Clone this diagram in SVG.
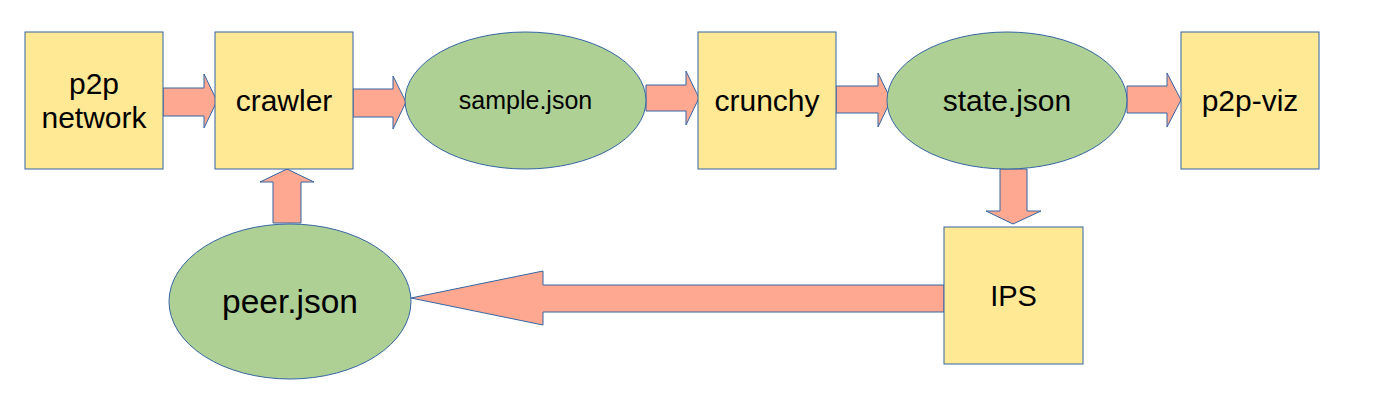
<svg xmlns="http://www.w3.org/2000/svg" width="1393" height="406" viewBox="0 0 1393 406">
<style>
.box{fill:#ffe994;stroke:#3465a4;stroke-width:1}
.ell{fill:#afd095;stroke:#3465a4;stroke-width:1}
.arr{fill:#ffa891;stroke:#3465a4;stroke-width:1;stroke-linejoin:miter}
text{font-family:"Liberation Sans",Arial,sans-serif;fill:#000;text-anchor:middle}
.t30{font-size:30px}
</style>
<rect width="1393" height="406" fill="#fff"/>
<g id="connectors">
<polygon class="arr" points="163,88 204,88 204,74 217,101 204,128 204,116 163,116"/>
<polygon class="arr" points="353,89 393,89 393,76 406,102 393,129 393,117 353,117"/>
<polygon class="arr" points="646,85 686,85 686,71 699,98 686,125 686,111 646,111"/>
<polygon class="arr" points="836,86 878,86 878,73 891,100 878,127 878,113 836,113"/>
<polygon class="arr" points="1127,86 1167,86 1167,73 1181,100 1167,127 1167,113 1127,113"/>
<polygon class="arr" points="1000,169 1027,169 1027,211 1041,211 1013,224 986,211 1000,211"/>
<polygon class="arr" points="944,285 543,285 543,271 411,298 543,325 543,312 944,312"/>
<polygon class="arr" points="273,223 273,182 260,182 287,169 314,182 301,182 301,223"/>
</g>
<g id="p2p-network">
<rect class="box" x="25" y="32" width="138" height="137"/>
<text class="t30" x="94" y="94">p2p</text>
<text class="t30" x="94" y="128">network</text>
</g>
<g id="crawler">
<rect class="box" x="215" y="32" width="138" height="137"/>
<text class="t30" x="284" y="111">crawler</text>
</g>
<g id="sample-json">
<ellipse class="ell" cx="525.5" cy="100.5" rx="120.5" ry="68.5"/>
<text x="525.5" y="109" font-size="25">sample.json</text>
</g>
<g id="crunchy">
<rect class="box" x="698" y="32" width="138" height="137"/>
<text class="t30" x="767" y="111">crunchy</text>
</g>
<g id="state-json">
<ellipse class="ell" cx="1007" cy="100.5" rx="120" ry="68.5"/>
<text class="t30" x="1007" y="111">state.json</text>
</g>
<g id="p2p-viz">
<rect class="box" x="1181" y="32" width="138" height="137"/>
<text class="t30" x="1250" y="111">p2p-viz</text>
</g>
<g id="IPS">
<rect class="box" x="944" y="227" width="139" height="137"/>
<text x="1013.5" y="306" font-size="29">IPS</text>
</g>
<g id="peer-json">
<ellipse class="ell" cx="290" cy="301.5" rx="121" ry="77.5"/>
<text x="290" y="313" font-size="33.5">peer.json</text>
</g>
</svg>
